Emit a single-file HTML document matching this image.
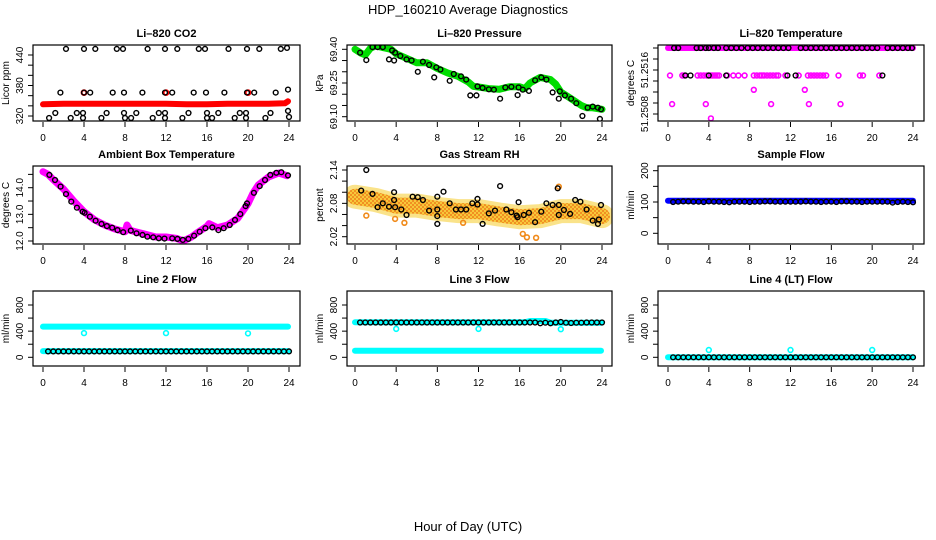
<!DOCTYPE html>
<html><head><meta charset="utf-8">
<style>
html,body{margin:0;padding:0;background:#fff;}
svg{display:block;font-family:"Liberation Sans",sans-serif;}
</style></head>
<body>
<svg id="chart" width="936" height="540" viewBox="0 0 936 540" xmlns="http://www.w3.org/2000/svg">
<defs>
<pattern id="rhdots" patternUnits="userSpaceOnUse" width="4" height="4">
<rect width="4" height="4" fill="#f7c83a"/>
<circle cx="1" cy="1" r="1" fill="#ef7f1a"/>
<circle cx="3" cy="3" r="1" fill="#ef7f1a"/>
</pattern>
</defs>
<text x="468" y="14" text-anchor="middle" font-size="13">HDP_160210  Average Diagnostics</text>
<text x="468" y="531" text-anchor="middle" font-size="13">Hour of Day (UTC)</text>
</svg>
<script>
// ---------- data ----------
const xTicks = [0,4,8,12,16,20,24];
const H48 = [0.5,1,1.5,2,2.5,3,3.5,4,4.5,5,5.5,6,6.5,7,7.5,8,8.5,9,9.5,10,10.5,11,11.5,12,12.5,13,13.5,14,14.5,15,15.5,16,16.5,17,17.5,18,18.5,19,19.5,20,20.5,21,21.5,22,22.5,23,23.5,24];

// CO2
const co2RedHours = [0,2,4,6,8,10,12,14,16,18,20,22,23.6,23.9];
const co2RedVals = [343,344,344,344,344,344,344,343,343,344,344,344,345,349];
const co2RedPtHours = [4,12,20];
const co2RedPtVals = [366,366,366];
const co2BlkHours = [2.24,4.0,5.1,7.2,7.8,10.2,11.9,13.1,15.2,15.8,18.1,19.9,21.1,23.2,23.8,
 1.7,4.0,4.6,6.8,7.9,9.7,11.9,12.6,14.7,15.9,17.7,19.9,20.6,22.7,23.9,
 1.2,3.3,3.9,6.2,7.9,9.1,11.3,11.9,14.2,16.0,17.1,19.2,19.8,22.2,23.9,
 0.6,2.7,3.9,5.7,8.0,8.6,10.7,11.9,13.6,16.0,16.5,18.7,19.8,21.7,24.0];
const co2BlkVals = [452,452,452,452,452,452,452,452,452,452,452,452,452,452,454,
 366,366,366,366,366,366,366,366,366,366,366,366,366,366,372,
 326,326,326,326,326,326,326,326,326,326,326,326,326,326,330,
 316,316,316,316,316,316,316,316,316,316,316,316,316,316,318];

// Pressure
const presHours = [0,0.6,1,1.5,2,3,3.5,4,5,6,7,8,9,10,11,11.5,12,13,14,15,16,16.5,17,17.5,18,19,19.5,20,21,22,22.5,23,24];
const presVals = [69.40,69.382,69.375,69.405,69.415,69.405,69.40,69.38,69.36,69.34,69.34,69.315,69.295,69.28,69.255,69.235,69.232,69.225,69.222,69.233,69.233,69.225,69.25,69.263,69.275,69.265,69.245,69.21,69.18,69.15,69.14,69.14,69.133];
const presBlkHours = [0.5,1.1,1.7,2.2,2.7,3.3,3.6,3.8,3.9,4.4,5.0,5.5,6.1,6.6,7.2,7.7,7.9,8.3,9.2,9.6,10.3,10.8,11.2,11.8,11.9,12.4,13.0,13.5,14.1,14.6,15.2,15.8,15.9,16.3,16.9,17.5,18.1,18.6,19.2,19.8,19.9,20.4,21.0,21.5,22.1,22.6,23.1,23.6,23.8,23.9];
const presBlkVals = [69.385,69.352,69.41,69.41,69.41,69.355,69.395,69.35,69.385,69.37,69.355,69.35,69.30,69.345,69.33,69.275,69.32,69.31,69.26,69.29,69.28,69.265,69.195,69.195,69.235,69.228,69.222,69.22,69.18,69.23,69.233,69.196,69.23,69.22,69.215,69.262,69.275,69.265,69.208,69.18,69.213,69.195,69.18,69.16,69.103,69.14,69.145,69.14,69.09,69.133];

// Li-820 temperature
const tempBandHours = [0,24];
const tempBandVals = [51.2520,51.2520];
const tempMagHours = [0.2,1.4,1.6,2.9,3.2,3.5,3.8,4.0,4.2,4.4,4.6,4.8,5.0,5.8,6.4,6.9,7.5,8.4,8.7,9.0,9.2,9.4,9.7,10.0,10.3,10.6,10.8,11.5,12.8,13.7,14.0,14.3,14.6,14.9,15.2,15.5,16.7,18.8,19.1,20.7,
 8.4,13.4,0.4,3.7,10.1,13.8,16.9,4.2];
const tempMagVals = [51.2515,51.2515,51.2515,51.2515,51.2515,51.2515,51.2515,51.2515,51.2515,51.2515,51.2515,51.2515,51.2515,51.2515,51.2515,51.2515,51.2515,51.2515,51.2515,51.2515,51.2515,51.2515,51.2515,51.2515,51.2515,51.2515,51.2515,51.2515,51.2515,51.2515,51.2515,51.2515,51.2515,51.2515,51.2515,51.2515,51.2515,51.2515,51.2515,51.2515,
 51.25124,51.25124,51.25098,51.25098,51.25098,51.25098,51.25098,51.25072];
const tempBlkHours = [0.6,1.0,2.8,3.2,3.7,4.0,4.5,4.9,5.7,6.2,6.7,7.2,7.8,8.3,8.8,9.3,9.8,10.3,10.8,11.3,11.8,13.0,13.5,14.0,14.5,15.0,15.5,16.0,16.5,17.0,17.5,18.0,18.5,19.0,19.5,20.0,20.5,21.5,22.0,22.5,23.0,23.5,23.9,
 1.7,2.2,4.0,5.7,11.7,12.5,21.0];
const tempBlkVals = [51.2520,51.2520,51.2520,51.2520,51.2520,51.2520,51.2520,51.2520,51.2520,51.2520,51.2520,51.2520,51.2520,51.2520,51.2520,51.2520,51.2520,51.2520,51.2520,51.2520,51.2520,51.2520,51.2520,51.2520,51.2520,51.2520,51.2520,51.2520,51.2520,51.2520,51.2520,51.2520,51.2520,51.2520,51.2520,51.2520,51.2520,51.2520,51.2520,51.2520,51.2520,51.2520,51.2520,
 51.2515,51.2515,51.2515,51.2515,51.2515,51.2515,51.2515];

// Ambient box temperature
const ambHours = [0,0.5,1,2,3,4,5,6,7,8,8.2,8.5,9,10,11,12,13,13.7,14.5,15,16,16.2,17,18,19,20,20.5,21,22,23,23.8];
const ambVals = [14.6,14.5,14.3,13.95,13.5,13.1,12.8,12.6,12.45,12.35,12.6,12.4,12.35,12.25,12.15,12.15,12.1,12.0,12.15,12.3,12.55,12.65,12.5,12.6,12.85,13.4,13.8,14.1,14.4,14.55,14.45];
const ambBlkHours = [0.62,1.17,1.72,2.24,2.76,3.31,3.86,4.06,4.58,5.13,5.71,6.23,6.75,7.27,7.82,8.57,9.12,9.71,10.19,10.75,11.3,11.85,12.6,13.12,13.64,14.19,14.74,15.29,15.84,16.52,17.11,17.63,18.21,18.73,19.25,19.77,19.9,20.58,21.14,21.66,22.18,22.76,23.25,23.9];
const ambBlkVals = [14.48,14.29,14.04,13.76,13.48,13.25,13.1,13.06,12.91,12.76,12.64,12.56,12.5,12.41,12.33,12.39,12.29,12.23,12.16,12.14,12.1,12.09,12.1,12.08,12.04,12.08,12.2,12.35,12.48,12.51,12.41,12.48,12.6,12.79,13.01,13.31,13.41,13.81,14.06,14.29,14.48,14.56,14.58,14.46];

// Gas stream RH
const rhHours = [0,2,4,6,8,10,12,14,16,18,20,22,24];
const rhVals = [2.092,2.086,2.076,2.076,2.07,2.066,2.066,2.06,2.055,2.057,2.066,2.066,2.057];
const rhOutHours = [1.1,3.9,4.8,16.3,16.7,17.6,10.5,19.8];
const rhOutVals = [2.058,2.052,2.045,2.025,2.019,2.018,2.045,2.11];
const rhBlkHours = [0.6,1.1,1.7,2.2,2.7,3.3,3.8,3.8,3.9,4.5,5.0,5.6,6.1,6.6,7.2,8.0,8.0,8.0,8.0,8.6,9.2,9.8,10.3,10.8,11.4,11.9,11.9,12.4,13.0,13.6,14.1,14.7,15.2,15.7,15.8,15.9,16.4,16.9,17.5,18.1,18.6,19.2,19.7,19.8,19.8,20.3,20.9,21.4,21.9,22.5,23.1,23.6,23.7,23.9];
const rhBlkVals = [2.103,2.14,2.097,2.073,2.08,2.074,2.1,2.086,2.073,2.069,2.059,2.092,2.091,2.086,2.067,2.069,2.057,2.043,2.092,2.101,2.08,2.069,2.069,2.069,2.08,2.088,2.078,2.043,2.062,2.067,2.111,2.069,2.064,2.058,2.055,2.082,2.059,2.063,2.046,2.065,2.08,2.077,2.107,2.077,2.059,2.068,2.061,2.086,2.083,2.069,2.049,2.043,2.051,2.077];

// Sample flow
const sfBandHours = [0,24];
const sfBandVals = [104,104];
const sfBlkVals = [100,101,102,102,101,101,100,102,101,101,100,99,101,101,101,100,101,101,102,102,101,101,101,101,101,101,102,101,101,100,101,101,100,102,102,101,101,100,101,101,101,101,101,98,100,101,100,99];

// Line 2 flow
const l2HiHours = [0,23.9];
const l2HiVals = [470,470];
const l2LoHours = [0,23.9];
const l2LoVals = [95,95];
const l2PtHours = [4,12,20];
const l2PtVals = [370,370,365];
const l2BlkVals = [90,90,90,90,90,90,90,90,90,90,90,90,90,90,90,90,90,90,90,90,90,90,90,90,90,90,90,90,90,90,90,90,90,90,90,90,90,90,90,90,90,90,90,90,90,90,90,90];

// Line 3 flow
const l3HiHours = [0,16.5,17,18.5,19,23.9];
const l3HiVals = [535,535,555,555,530,530];
const l3LoHours = [0,23.9];
const l3LoVals = [100,100];
const l3PtHours = [4,12,20];
const l3PtVals = [435,435,430];
const l3BlkVals = [532,532,532,532,532,532,532,532,532,532,532,532,532,532,532,532,532,532,532,532,532,532,532,532,532,532,532,532,532,532,532,532,532,532,532,520,530,520,532,540,530,525,530,530,532,532,532,532];

// Line 4 flow
const l4BandHours = [0,24];
const l4BandVals = [0,0];
const l4PtHours = [4,12,20];
const l4PtVals = [112,112,112];
const l4BlkVals = [0,0,0,0,0,0,0,0,0,0,0,0,0,0,0,0,0,0,0,0,0,0,0,0,0,0,0,0,0,0,0,0,0,0,0,0,0,0,0,0,0,0,0,0,0,0,0,0];

const CO2TickVals = [320,340,360,380,400,420,440];
const PresTickVals = [69.10,69.15,69.20,69.25,69.30,69.35,69.40];
const TempTickVals = [51.2508,51.2510,51.2512,51.2514,51.2516,51.2518,51.2520];
const AmbTickVals = [12.0,12.5,13.0,13.5,14.0,14.5];
const RhTickVals = [2.02,2.04,2.06,2.08,2.10,2.12,2.14];
const SfTickVals = [0,50,100,150,200];
const LineTickVals = [0,200,400,600,800];

// ---------- layout ----------
const NS = "http://www.w3.org/2000/svg";
const svg = document.getElementById('chart');
const cols = [{l:33,r:300,x0:43,x24:289},{l:347,r:612,x0:355,x24:602},{l:658,r:924,x0:668,x24:913}];
const rows = [{t:45,b:121},{t:166,b:244},{t:291,b:366}];

function mk(tag, attrs, parent){
  const e = document.createElementNS(NS, tag);
  for (const k in attrs) e.setAttribute(k, attrs[k]);
  (parent||svg).appendChild(e);
  return e;
}

function makePanel(key, title, ylab, ci, ri, v1, y1, v2, y2, tickVals, labelVals, labelFmt){
  const c = cols[ci], r = rows[ri];
  const g = mk('g', {});
  
  
  const xs = h => c.x0 + (c.x24 - c.x0) * h / 24;
  const ys = v => y1 + (v - v1) * (y2 - y1) / (v2 - v1);
  const clipId = 'clip-' + key;
  const cp = mk('clipPath', {id: clipId}, g);
  mk('rect', {x:c.l, y:r.t, width:c.r-c.l, height:r.b-r.t}, cp);
  const plot = mk('g', {'clip-path':'url(#'+clipId+')'}, g);
  
  
  const frame = mk('rect', {x:c.l, y:r.t, width:c.r-c.l, height:r.b-r.t, fill:'none', stroke:'#000', 'stroke-width':1.2}, g);
  
  
  const t = mk('text', {x:(c.l+c.r)/2, y:r.t-8, 'text-anchor':'middle', 'font-size':11, 'font-weight':'bold'}, g);
  t.textContent = title;
  
  
  xTicks.forEach(h => {
    const tk = mk('line', {x1:xs(h), x2:xs(h), y1:r.b+1, y2:r.b+6, stroke:'#000', 'stroke-width':1}, g);
    
    
    const tl = mk('text', {x:xs(h), y:r.b+20, 'text-anchor':'middle', 'font-size':10}, g);
    tl.textContent = h;
    
    
  });
  tickVals.forEach(v => {
    const tk = mk('line', {x1:c.l-5, x2:c.l, y1:ys(v), y2:ys(v), stroke:'#000', 'stroke-width':1}, g);
    
    
  });
  labelVals.forEach(v => {
    const yy = ys(v), xx = c.l - 10;
    const tl = mk('text', {x:xx, y:yy, 'text-anchor':'middle', 'font-size':10, transform:'rotate(-90 '+xx+' '+yy+')'}, g);
    tl.textContent = labelFmt(v);
    
    
  });
  const yl = mk('text', {x:c.l-24, y:(r.t+r.b)/2, 'text-anchor':'middle', 'font-size':10, transform:'rotate(-90 '+(c.l-24)+' '+((r.t+r.b)/2)+')'}, g);
  yl.textContent = ylab;
  
  
  return {plot, xs, ys, key};
}

function band(p, hours, vals, color, w, name, op){
  const pts = hours.map((h,i) => p.xs(h).toFixed(1)+','+p.ys(vals[i]).toFixed(1)).join(' ');
  const pl = mk('polyline', {points:pts, fill:'none', stroke:color, 'stroke-width':w, 'stroke-linejoin':'round', 'stroke-linecap':'round', 'stroke-opacity':op||1}, p.plot);
  
  
}
function pts(p, hours, vals, color, name, r, sw){
  hours.forEach((h,i) => {
    const ci = mk('circle', {cx:p.xs(h).toFixed(1), cy:p.ys(vals[i]).toFixed(1), r:r||2.4, fill:'none', stroke:color, 'stroke-width':sw||1.4}, p.plot);
    
    
  });
}

const f0 = v => String(v);
const f1 = v => v.toFixed(1);
const f2 = v => v.toFixed(2);
const f4 = v => v.toFixed(4);

let p = makePanel('co2', 'Li\u2013820 CO2', 'Licor ppm', 0, 0, 320, 116, 440, 55, CO2TickVals, [320,380,440], f0);
band(p, co2RedHours, co2RedVals, '#ff0000', 6, 'co2-series');
pts(p, co2RedPtHours, co2RedPtVals, '#ff0000', 'co2-point', 2.4, 2);
pts(p, co2BlkHours, co2BlkVals, '#000', 'co2-avg-point');

p = makePanel('pressure', 'Li\u2013820 Pressure', 'kPa', 1, 0, 69.40, 49.3, 69.10, 116.7, PresTickVals, [69.10,69.25,69.40], f2);
band(p, presHours, presVals, '#00dd00', 7, 'pressure-series');
pts(p, presBlkHours, presBlkVals, '#000', 'pressure-avg-point');

p = makePanel('li820-temp', 'Li\u2013820 Temperature', 'degrees C', 2, 0, 51.2508, 114, 51.2516, 70, TempTickVals, [51.2508,51.2516], f4);
band(p, tempBandHours, tempBandVals, '#ff00ff', 6, 'temp-series');
pts(p, tempMagHours, tempMagVals, '#ff00ff', 'temp-point', 2.4, 1.6);
pts(p, tempBlkHours, tempBlkVals, '#000', 'temp-avg-point');

p = makePanel('ambient', 'Ambient Box Temperature', 'degrees C', 0, 1, 14.0, 187.7, 12.0, 241, AmbTickVals, [12.0,13.0,14.0], f1);
band(p, ambHours, ambVals, '#ff00ff', 7, 'ambient-series');
pts(p, ambBlkHours, ambBlkVals, '#000', 'ambient-avg-point');

p = makePanel('rh', 'Gas Stream RH', 'percent', 1, 1, 2.14, 170, 2.02, 236.7, RhTickVals, [2.02,2.08,2.14], f2);
band(p, rhHours, rhVals, '#fae38a', 24, 'rh-series-outer');
band(p, rhHours, rhVals, 'url(#rhdots)', 16, 'rh-series');
pts(p, rhOutHours, rhOutVals, '#f08a1a', 'rh-outlier', 2.4, 1.6);
pts(p, rhBlkHours, rhBlkVals, '#000', 'rh-avg-point');

p = makePanel('sample-flow', 'Sample Flow', 'ml/min', 2, 1, 200, 170.7, 0, 233.3, SfTickVals, [0,100,200], f0);
band(p, sfBandHours, sfBandVals, '#0000ff', 6, 'sample-flow-series');
pts(p, H48, sfBlkVals, '#000', 'sample-flow-avg-point');

p = makePanel('line2', 'Line 2 Flow', 'ml/min', 0, 2, 0, 357.3, 800, 305, LineTickVals, [0,400,800], f0);
band(p, l2HiHours, l2HiVals, '#00ffff', 6, 'line2-high-series');
band(p, l2LoHours, l2LoVals, '#00ffff', 6, 'line2-low-series');
pts(p, l2PtHours, l2PtVals, '#00ffff', 'line2-point', 2.4, 1.6);
pts(p, H48, l2BlkVals, '#000', 'line2-avg-point');

p = makePanel('line3', 'Line 3 Flow', 'ml/min', 1, 2, 0, 357.3, 800, 305, LineTickVals, [0,400,800], f0);
band(p, l3HiHours, l3HiVals, '#00ffff', 6, 'line3-high-series');
band(p, l3LoHours, l3LoVals, '#00ffff', 6, 'line3-low-series');
pts(p, l3PtHours, l3PtVals, '#00ffff', 'line3-point', 2.4, 1.6);
pts(p, H48, l3BlkVals, '#000', 'line3-avg-point');

p = makePanel('line4', 'Line 4 (LT) Flow', 'ml/min', 2, 2, 0, 357.3, 800, 305, LineTickVals, [0,400,800], f0);
band(p, l4BandHours, l4BandVals, '#00ffff', 6, 'line4-series');
pts(p, l4PtHours, l4PtVals, '#00ffff', 'line4-point', 2.4, 1.6);
pts(p, H48, l4BlkVals, '#000', 'line4-avg-point');
</script>
</body></html>
